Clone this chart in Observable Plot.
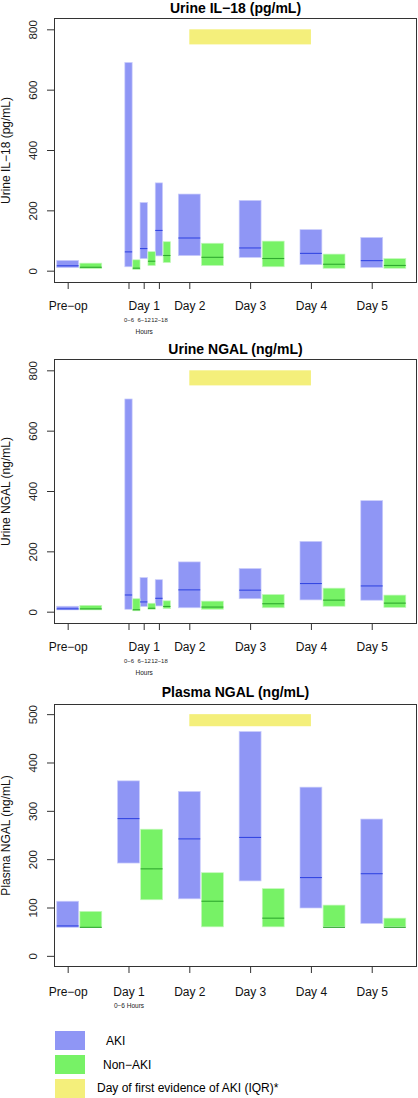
<!DOCTYPE html>
<html><head><meta charset="utf-8">
<script src="https://cdn.jsdelivr.net/npm/d3@7"></script>
<script src="https://cdn.jsdelivr.net/npm/@observablehq/plot@0.6"></script>
<style>
body{margin:0;background:#fff;font-family:"Liberation Sans",Arial,sans-serif;}
#root{position:relative;width:418px;height:1098px;overflow:hidden;background:#fff;}
.panel{position:absolute;left:0;}
.sw{position:absolute;left:55px;width:30px;}
.lt{position:absolute;font-size:12px;color:#000;line-height:1;transform:translateY(-50%);white-space:nowrap;}
</style></head><body><div id="root"></div>
<script>
// ---- categories / ticks ----
const urineTimes = ["Pre−op","0−6","6−12","12−18","Day 2","Day 3","Day 4","Day 5"];
const urineTimeIndex = [0,1,1.25,1.5,2,3,4,5];
const urineIsHourWindow = [false,true,true,true,false,false,false,false];
const plasmaTimes = ["Pre−op","Day 1","Day 2","Day 3","Day 4","Day 5"];
const plasmaTimeIndex = [0,1,2,3,4,5];
const plasmaIsHourWindow = [false,false,false,false,false,false];

const dayTickLabels = ["Pre−op","Day 1","Day 2","Day 3","Day 4","Day 5"];
const urineDayLabelIndex = [0,1.25,2,3,4,5];
const plasmaDayLabelIndex = [0,1,2,3,4,5];
const urineTickIndex = [0,1,1.25,1.5,2,3,4,5];
const plasmaTickIndex = [0,1,2,3,4,5];
const hourLabels = ["0−6","6−12","12−18"];
const hourLabelIndex = [1,1.25,1.5];
const hoursWord = ["Hours"];
const hoursWordIndex = [1.25];
const plasmaHourLabel = ["0−6 Hours"];
const plasmaHourLabelIndex = [1];

const urineYTicks = [0,200,400,600,800];
const plasmaYTicks = [0,100,200,300,400,500];

// Day of first evidence of AKI (IQR): day 2 to day 4
const firstEvidenceIQR = [2, 4];

// ---- Urine IL-18 (pg/mL) ----
const il18AkiQ1  = [10, 13, 40, 49, 50, 44, 20, 11];
const il18AkiMed = [18, 64, 75, 135, 110, 77, 59, 35];
const il18AkiQ3  = [34, 690, 226, 291, 254, 233, 136, 110];
const il18NonQ1  = [7, 4, 17, 27, 17, 13, 8, 8];
const il18NonMed = [13, 10, 33, 52, 46, 42, 23, 19];
const il18NonQ3  = [25, 36, 63, 96, 91, 98, 55, 40];

// ---- Urine NGAL (ng/mL) ----
const ngalUAkiQ1  = [6, 8, 17, 19, 13, 43, 39, 38];
const ngalUAkiMed = [11, 57, 34, 46, 74, 73, 95, 87];
const ngalUAkiQ3  = [18, 705, 113, 106, 165, 143, 233, 368];
const ngalUNonQ1  = [6, 3, 8, 10, 8, 13, 18, 14];
const ngalUNonMed = [11, 8, 13, 19, 17, 28, 40, 30];
const ngalUNonQ3  = [21, 43, 28, 36, 35, 57, 78, 55];

// ---- Plasma NGAL (ng/mL) ----
const ngalPAkiQ1  = [59, 192, 118, 155, 99, 67];
const ngalPAkiMed = [63, 285, 243, 246, 163, 171];
const ngalPAkiQ3  = [113, 362, 340, 464, 349, 283];
const ngalPNonQ1  = [59, 116, 60, 60, 60, 60];
const ngalPNonMed = [60, 181, 114, 79, 60, 60];
const ngalPNonQ3  = [92, 262, 172, 139, 105, 78];

// ---- styles ----
const AKI_FILL = "#8f96f5", AKI_LINE = "#3447e2";
const NON_FILL = "#77f266", NON_LINE = "#2fa92f";
const BAND_FILL = "#f4ef7b";
const FONT = "Liberation Sans, Arial, sans-serif";

function buildRows(index, isHour, q1, med, q3) {
  const aki = index.map((t, i) => {
    const h = isHour[i] ? 0.06 : 0.18;
    return {x1: t - h, x2: t + h, q1: q1.aki[i], q3: q3.aki[i], med: med.aki[i]};
  });
  const non = index.map((t, i) => {
    const a = isHour[i] ? 0.07 : 0.2, b = isHour[i] ? 0.19 : 0.56;
    return {x1: t + a, x2: t + b, q1: q1.non[i], q3: q3.non[i], med: med.non[i]};
  });
  return {aki, non};
}

function panel(cfg) {
  const {aki, non} = cfg.rows;
  const marks = [
    Plot.rect([firstEvidenceIQR], {x1: d => d[0], x2: d => d[1], y1: cfg.band[0], y2: cfg.band[1], fill: BAND_FILL}),
    Plot.rect(aki, {x1: "x1", x2: "x2", y1: "q1", y2: "q3", fill: AKI_FILL, stroke: "#c9ccfb", strokeWidth: 0.7}),
    Plot.rect(non, {x1: "x1", x2: "x2", y1: "q1", y2: "q3", fill: NON_FILL, stroke: "#c3f8bb", strokeWidth: 0.7}),
    Plot.ruleY(aki, {y: "med", x1: "x1", x2: "x2", stroke: AKI_LINE, strokeWidth: 1.1}),
    Plot.ruleY(non, {y: "med", x1: "x1", x2: "x2", stroke: NON_LINE, strokeWidth: 1.1}),
    Plot.frame({stroke: "#333", strokeWidth: 1}),
    Plot.axisY(cfg.yTicks, {tickSize: 7, tickFormat: () => "", label: null, stroke: "#333"}),
    Plot.axisX(cfg.xTicks, {tickSize: 7, tickFormat: () => "", label: null, stroke: "#333"}),
    Plot.text(cfg.yTicks, {y: d => d, frameAnchor: "left", dx: -21, rotate: -90, text: d => String(d), fontSize: 11.5, fill: "#222", textAnchor: "middle", lineAnchor: "middle"}),
    Plot.text(cfg.dayIndex, {x: d => d, frameAnchor: "bottom", dy: cfg.dayDy, text: (d, i) => dayTickLabels[i], fontSize: 12, fill: "#111", lineAnchor: "middle"}),
    Plot.text([cfg.title], {frameAnchor: "top", dy: cfg.titleDy, text: d => d, fontSize: 14, fontWeight: "bold", fill: "#000", lineAnchor: "middle"}),
    Plot.text([cfg.yLabel], {frameAnchor: "left", dx: -48, rotate: -90, text: d => d, fontSize: 12, fill: "#111", textAnchor: "middle", lineAnchor: "middle"})
  ];
  for (const s of cfg.sub) {
    marks.push(Plot.text(s.index, {x: d => d, frameAnchor: "bottom", dy: s.dy, text: (d, i) => s.labels[i], fontSize: s.size, fill: "#222", lineAnchor: "middle"}));
  }
  const svg = Plot.plot({
    width: 418, height: cfg.height,
    marginTop: cfg.mt, marginBottom: cfg.mb, marginLeft: 54, marginRight: 2,
    x: {domain: [-0.225, 5.728], axis: null},
    y: {domain: cfg.yDomain, axis: null},
    style: {fontFamily: FONT, background: "white", overflow: "visible"},
    marks
  });
  const div = document.createElement("div");
  div.className = "panel";
  div.style.top = cfg.top + "px";
  div.appendChild(svg);
  return div;
}

const root = document.getElementById("root");
const urineSub = [
  {index: hourLabelIndex, labels: hourLabels, dy: 37.5, size: 5.9},
  {index: hoursWordIndex, labels: hoursWord, dy: 49, size: 6.5}
];

root.appendChild(panel({
  top: 0, height: 340, mt: 18, mb: 58, yDomain: [-37.5, 837.5], yTicks: urineYTicks,
  xTicks: urineTickIndex, dayIndex: urineDayLabelIndex, dayDy: 24, titleDy: -10,
  title: "Urine IL−18 (pg/mL)", yLabel: "Urine IL−18 (pg/mL)", band: [750, 800],
  rows: buildRows(urineTimeIndex, urineIsHourWindow,
    {aki: il18AkiQ1, non: il18NonQ1}, {aki: il18AkiMed, non: il18NonMed}, {aki: il18AkiQ3, non: il18NonQ3}),
  sub: urineSub
}));

root.appendChild(panel({
  top: 340, height: 340, mt: 19, mb: 57, yDomain: [-37.5, 837.5], yTicks: urineYTicks,
  xTicks: urineTickIndex, dayIndex: urineDayLabelIndex, dayDy: 24, titleDy: -10,
  title: "Urine NGAL (ng/mL)", yLabel: "Urine NGAL (ng/mL)", band: [750, 800],
  rows: buildRows(urineTimeIndex, urineIsHourWindow,
    {aki: ngalUAkiQ1, non: ngalUNonQ1}, {aki: ngalUAkiMed, non: ngalUNonMed}, {aki: ngalUAkiQ3, non: ngalUNonQ3}),
  sub: urineSub
}));

root.appendChild(panel({
  top: 680, height: 338, mt: 24, mb: 52, yDomain: [-21, 521], yTicks: plasmaYTicks,
  xTicks: plasmaTickIndex, dayIndex: plasmaDayLabelIndex, dayDy: 25.5, titleDy: -11.5,
  title: "Plasma NGAL (ng/mL)", yLabel: "Plasma NGAL (ng/mL)", band: [475, 500],
  rows: buildRows(plasmaTimeIndex, plasmaIsHourWindow,
    {aki: ngalPAkiQ1, non: ngalPNonQ1}, {aki: ngalPAkiMed, non: ngalPNonMed}, {aki: ngalPAkiQ3, non: ngalPNonQ3}),
  sub: [{index: plasmaHourLabelIndex, labels: plasmaHourLabel, dy: 39, size: 6.5}]
}));

// ---- legend ----
const legendItems = ["AKI", "Non−AKI", "Day of first evidence of AKI (IQR)*"];
const legendColors = [AKI_FILL, NON_FILL, BAND_FILL];
const swTop = [1031, 1055, 1079], swH = [19, 19, 19];
const txtY = [1041, 1065, 1088], txtX = [106, 103, 97];
legendItems.forEach((t, i) => {
  const s = document.createElement("div");
  s.className = "sw";
  s.style.top = swTop[i] + "px"; s.style.height = swH[i] + "px"; s.style.background = legendColors[i];
  root.appendChild(s);
  const l = document.createElement("div");
  l.className = "lt";
  l.style.top = txtY[i] + "px"; l.style.left = txtX[i] + "px";
  l.textContent = t;
  root.appendChild(l);
});
</script></body></html>
